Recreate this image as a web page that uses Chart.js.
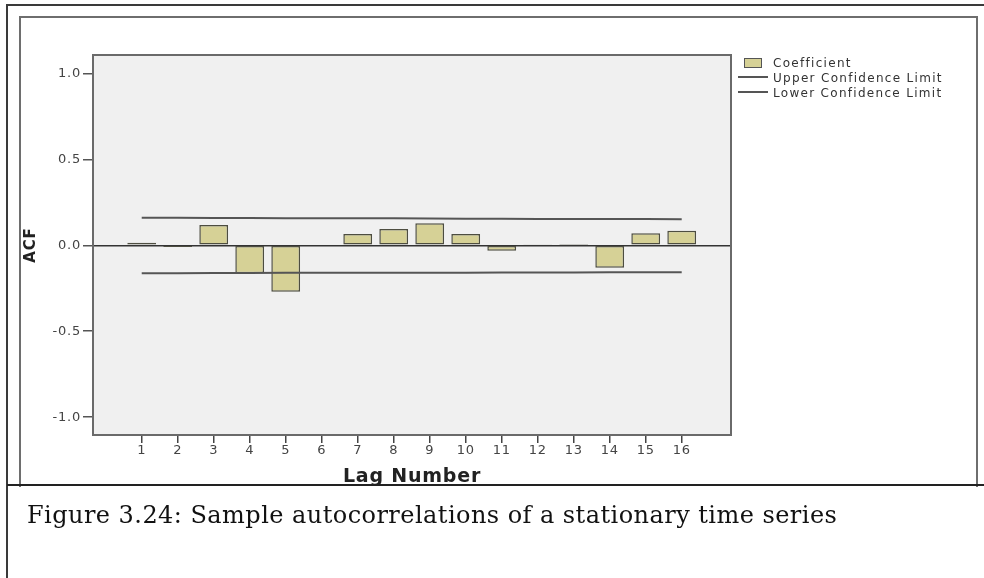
<!DOCTYPE html>
<html>
<head>
<meta charset="utf-8">
<script src="https://cdn.jsdelivr.net/npm/chart.js@4"></script>
<style>
  body { margin: 0; width: 984px; height: 578px; overflow: hidden; background: #fff; position: relative; }
  #outer { position: absolute; left: 6px; top: 4px; width: 990px; height: 600px; border: 2px solid #3a3a3a; }
  #inner { position: absolute; left: 19px; top: 16px; width: 955px; height: 469px; border: 2px solid #6e6e6e; border-bottom: none; }
  #rule { position: absolute; left: 7px; top: 484px; width: 980px; height: 0; border-top: 2px solid #222; }
  #acfChart { position: absolute; left: 0; top: 0; }
  .leg { position: absolute; font-family: "DejaVu Sans", sans-serif; font-size: 12px; letter-spacing: 1.3px; color: #333; line-height: 14px; white-space: nowrap; }
  .legBox { position: absolute; left: 744px; top: 58px; width: 16px; height: 8px; background: #d6d196; border: 1px solid #555; }
  .legLine { position: absolute; left: 738px; width: 30px; height: 0; border-top: 2px solid #555; }
  #caption { position: absolute; left: 27px; top: 503px; font-family: "DejaVu Serif", serif; font-size: 24px; line-height: 24px; letter-spacing: 0.45px; color: #111; white-space: nowrap; }
</style>
</head>
<body>
<div id="outer"></div>
<div id="inner"></div>
<div id="rule"></div>
<canvas id="acfChart" width="984" height="578"></canvas>
<div class="legBox"></div>
<div class="leg" style="left:773px; top:56px;">Coefficient</div>
<div class="legLine" style="top:76px;"></div>
<div class="leg" style="left:773px; top:71px;">Upper Confidence Limit</div>
<div class="legLine" style="top:91px;"></div>
<div class="leg" style="left:773px; top:86px;">Lower Confidence Limit</div>
<div id="caption">Figure 3.24: Sample autocorrelations of a stationary time series</div>
<script>
// lag numbers and sample autocorrelations
const lags = [1, 2, 3, 4, 5, 6, 7, 8, 9, 10, 11, 12, 13, 14, 15, 16];
const acf = [0.015, -0.01, 0.118, -0.163, -0.27, 0.005, 0.066, 0.095, 0.128, 0.066, -0.031, 0.003, 0.008, -0.13, 0.07, 0.085];
const upperLimit = [0.160, 0.160, 0.159, 0.159, 0.158, 0.158, 0.157, 0.157, 0.156, 0.155, 0.155, 0.154, 0.154, 0.153, 0.153, 0.152];
const lowerLimit = [-0.162, -0.162, -0.161, -0.161, -0.160, -0.160, -0.160, -0.159, -0.159, -0.159, -0.158, -0.158, -0.158, -0.157, -0.157, -0.157];
const yTicks = [-1, -0.5, 0, 0.5, 1];
const xRange = [-0.353, 17.369];
const yRange = [-1.104, 1.108];

const toPoints = (vals) => vals.map((v, i) => ({ x: lags[i], y: v }));

// grey plot background, frame and wider letters like the SPSS output
const plotFrame = {
  id: "plotFrame",
  beforeLayout(chart) { chart.ctx.letterSpacing = "0.8px"; },
  beforeDraw(chart) {
    const { ctx, chartArea: a } = chart;
    ctx.letterSpacing = "0.8px";
    ctx.save();
    ctx.fillStyle = "#f0f0f0";
    ctx.fillRect(a.left, a.top, a.right - a.left, a.bottom - a.top);
    ctx.restore();
  },
  afterDatasetsDraw(chart) {
    const { ctx, chartArea: a } = chart;
    ctx.save();
    ctx.strokeStyle = "#6a6a6a";
    ctx.lineWidth = 2;
    ctx.strokeRect(a.left, a.top, a.right - a.left, a.bottom - a.top);
    ctx.restore();
  }
};

const tickFont = { family: "DejaVu Sans", size: 13 };

new Chart(document.getElementById("acfChart"), {
  type: "bar",
  data: {
    datasets: [
      {
        label: "Coefficient",
        data: toPoints(acf),
        backgroundColor: "#d6d196",
        borderColor: "#4d4d40",
        borderWidth: 1.5,
        borderSkipped: false,
        categoryPercentage: 1,
        barPercentage: 0.8,
        order: 2
      },
      {
        type: "line",
        label: "Upper Confidence Limit",
        data: toPoints(upperLimit),
        borderColor: "#555",
        borderWidth: 2,
        pointRadius: 0,
        fill: false,
        order: 1
      },
      {
        type: "line",
        label: "Lower Confidence Limit",
        data: toPoints(lowerLimit),
        borderColor: "#555",
        borderWidth: 2,
        pointRadius: 0,
        fill: false,
        order: 1
      }
    ]
  },
  options: {
    responsive: false,
    animation: false,
    devicePixelRatio: 1,
    layout: { padding: { top: 55, right: 253, bottom: 83, left: 0 } },
    plugins: { legend: { display: false }, tooltip: { enabled: false } },
    scales: {
      x: {
        type: "linear",
        min: xRange[0],
        max: xRange[1],
        offset: false,
        afterBuildTicks: (s) => { s.ticks = lags.map(v => ({ value: v })); },
        afterFit: (s) => { s.height = 60; },
        ticks: { font: tickFont, color: "#444", padding: 0, maxRotation: 0, autoSkip: false },
        grid: { offset: false, drawOnChartArea: false, tickLength: 8, tickColor: "#444", lineWidth: 1.5 },
        border: { display: false },
        title: {
          display: true,
          text: "Lag Number",
          font: { family: "DejaVu Sans", size: 19, weight: "bold" },
          color: "#222",
          padding: { bottom: 7 }
        }
      },
      y: {
        type: "linear",
        min: yRange[0],
        max: yRange[1],
        afterBuildTicks: (s) => { s.ticks = yTicks.map(v => ({ value: v })); },
        afterFit: (s) => { s.width = 93; },
        ticks: { font: tickFont, color: "#444", padding: 2, callback: (v) => v.toFixed(1) },
        grid: {
          color: (c) => (c.tick && c.tick.value === 0 ? "#333" : "rgba(0,0,0,0)"),
          lineWidth: 1.5,
          tickLength: 10,
          tickColor: "#555"
        },
        border: { display: false },
        title: {
          display: true,
          text: "ACF",
          font: { family: "DejaVu Sans", size: 15, weight: "bold" },
          color: "#222",
          padding: { top: 22 }
        }
      }
    }
  },
  plugins: [plotFrame]
});
</script>
</body>
</html>
